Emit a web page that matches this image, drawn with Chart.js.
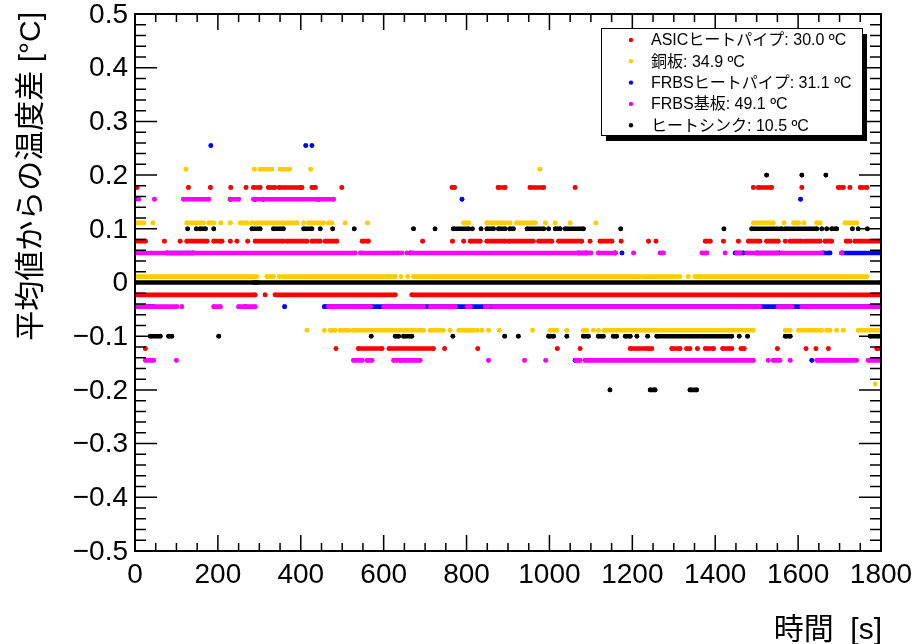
<!DOCTYPE html>
<html>
<head>
<meta charset="utf-8">
<script src="https://cdn.jsdelivr.net/npm/chart.js@4.4.0/dist/chart.umd.min.js"></script>
<style>
  html, body { margin: 0; padding: 0; background: #fff; }
  #wrap { width: 920px; height: 644px; }
</style>
</head>
<body>
<div id="wrap"><canvas id="tempChart" width="920" height="644"></canvas></div>
<script>
// deviation levels [degC] of each sensor and the time ranges [s] where points sit on them
// ([t] = single point, [t0, t1] = dense run of points)
const asicLevels = [0.177, 0.077, -0.023, -0.123];
const asicTimes = [
  [[5],[129],[182],[231],[268],[286,302],[322,337],[348,399],[403],[427,435],[499],[765,771],[876,893],[953,986],[1062],[1492],[1504,1536],[1609],[1697,1709],[1725],[1750,1766]],
  [[0,25],[71],[109],[125,174],[190,210],[230],[246],[272],[290,358],[367,415],[427,447],[459,487],[548,563],[694],[766],[793],[809,833],[849,893],[901,961],[974,1006],[1022,1078],[1098],[1122,1151],[1173],[1239],[1257],[1376,1388],[1420],[1456],[1480,1508],[1524,1552],[1569],[1581,1609],[1617,1653],[1665,1681],[1716,1725],[1737,1798]],
  [[0,290],[314],[338,628],[668,1800]],
  [[25],[485],[539,596],[613,720],[747],[827],[1019],[1074],[1195,1239],[1247],[1295,1315],[1331],[1339],[1357],[1376,1396],[1418,1440],[1462,1470],[1550],[1619],[1643],[1673],[1790,1800]]
];

const copperLevels = [0.211, 0.111, 0.011, -0.089, -0.189];
const copperTimes = [
  [[123],[288],[302,330],[350,373],[424],[977]],
  [[0,21],[43],[125,165],[178,190],[207],[230],[254,270],[282,358],[367,391],[407],[419,447],[455],[467,475],[507],[561],[793,805],[849,905],[921,966],[990],[1014],[1050],[1112],[1492,1540],[1566],[1589,1601],[1614],[1645,1653],[1713,1741]],
  [[0,294],[318,334],[348],[358,628],[642],[658],[672,1218],[1227,1263],[1271,1283],[1291,1307],[1315],[1335],[1351,1766]],
  [[415],[457],[471,483],[495,515],[525,696],[712,744],[760],[781,797],[805,817],[826],[837],[853],[879],[959],[1002,1018],[1042],[1082,1090],[1106],[1118],[1132,1492],[1569,1581],[1601,1657],[1669,1677],[1693],[1709],[1745,1800]],
  [[1786]]
];

const pipeLevels = [0.255, 0.155, 0.055, -0.045, -0.145];
const pipeTimes = [
  [[183],[412],[427]],
  [[0],[230],[290],[310],[442],[789],[1606]],
  [[77,141],[664],[1070,1090],[1159],[1175],[1448,1468],[1500,1555],[1661,1677],[1705,1800]],
  [[32,44],[266],[361],[457,1800]],
  [[640],[1062],[1633]]
];

const boardLevels = [0.155, 0.055, -0.045, -0.145];
const boardTimes = [
  [[9],[47],[117,178],[230,250],[286,479]],
  [[0,531],[544,636],[644],[656],[668,1100],[1118,1159],[1203],[1267,1275],[1368,1380],[1424],[1452,1460],[1476,1549],[1561,1657],[1705]],
  [[0,101],[113],[190,206],[250,290],[467,523],[527,551],[560,568],[600,676],[684,696],[712,773],[801,809],[845,853],[865,1472],[1480,1508],[1552,1585],[1609,1800]],
  [[25,45],[100],[527,548],[560,572],[624,632],[640,688],[853],[940],[991],[1064,1074],[1086,1492],[1528],[1540,1556],[1581],[1645,1741],[1769,1800]]
];

const sinkLevels = [0.2, 0.1, 0, -0.1, -0.2];
const sinkTimes = [
  [[1524],[1609],[1667]],
  [[127],[148],[157,170],[190],[282,302],[334,358],[407,427],[447],[477],[529],[672],[724],[768,805],[814],[835],[849,865],[877,893],[904,913],[946,986],[998],[1014,1026],[1038,1082],[1172],[1421],[1488,1561],[1569,1645],[1657],[1669],[1681,1693],[1731],[1745],[1767]],
  [[0,288],[294,1800]],
  [[37,61],[81,89],[202],[570],[628,636],[648,668],[767],[892],[925],[998,1010],[1042],[1082,1094],[1118,1130],[1154,1162],[1183,1195],[1211],[1237],[1259,1440],[1458],[1478],[1569,1581],[1774,1794]],
  [[1146],[1243,1255],[1339,1355]]
];

const seriesNames = ["ASICヒートパイプ", "銅板", "FRBSヒートパイプ", "FRBS基板", "ヒートシンク"];
const seriesMeans = [30.0, 34.9, 31.1, 49.1, 10.5];
const seriesColors = ["#ff0000", "#ffcc00", "#0000ff", "#ff00ff", "#000000"];

const xTicks = [0, 200, 400, 600, 800, 1000, 1200, 1400, 1600, 1800];
const yTicks = [-0.5, -0.4, -0.3, -0.2, -0.1, 0, 0.1, 0.2, 0.3, 0.4, 0.5];

const FONT = '"Liberation Sans", Arial, "Noto Sans CJK JP", sans-serif';

// runs -> points, broken by gaps so the line only joins points of one run
function toPoints(levels, times) {
  const pts = [];
  levels.forEach((lv, i) => {
    times[i].forEach((run) => {
      run.forEach((t) => pts.push({ x: t, y: lv }));
      pts.push({ x: run[run.length - 1], y: null });
    });
  });
  return pts;
}

const allLevels = [asicLevels, copperLevels, pipeLevels, boardLevels, sinkLevels];
const allTimes = [asicTimes, copperTimes, pipeTimes, boardTimes, sinkTimes];
const drawOrder = [4, 3, 2, 1, 0];

const datasets = seriesNames.map((name, i) => ({
  label: name,
  data: toPoints(allLevels[i], allTimes[i]),
  showLine: true,
  spanGaps: false,
  borderColor: seriesColors[i],
  backgroundColor: seriesColors[i],
  borderWidth: 4.6,
  borderCapStyle: "round",
  pointRadius: 2.4,
  pointBorderWidth: 0,
  order: drawOrder[i],
}));

const fmtY = (v) => (v === 0 ? "0" : (v < 0 ? "\u2212" : "") + Math.abs(v).toFixed(1));

const rootFrame = {
  id: "rootFrame",
  afterDraw(chart) {
    const { ctx, chartArea: a, scales } = chart;
    const xs = scales.x, ys = scales.y;
    ctx.save();
    ctx.strokeStyle = "#000";
    ctx.fillStyle = "#000";

    // ticks on all four sides
    ctx.lineWidth = 1.5;
    ctx.beginPath();
    for (let t = 0; t <= 1800; t += 50) {
      const px = xs.getPixelForValue(t);
      const len = t % 200 === 0 ? 16 : 8;
      ctx.moveTo(px, a.bottom); ctx.lineTo(px, a.bottom - len);
      ctx.moveTo(px, a.top); ctx.lineTo(px, a.top + len);
    }
    for (let k = -25; k <= 25; k++) {
      const py = ys.getPixelForValue(k * 0.02);
      const len = k % 5 === 0 ? 22 : 11;
      ctx.moveTo(a.left, py); ctx.lineTo(a.left + len, py);
      ctx.moveTo(a.right, py); ctx.lineTo(a.right - len, py);
    }
    ctx.stroke();

    ctx.lineWidth = 2;
    ctx.strokeRect(a.left, a.top, a.right - a.left, a.bottom - a.top);

    // tick labels
    ctx.font = "28px " + FONT;
    ctx.textAlign = "right";
    ctx.textBaseline = "middle";
    yTicks.forEach((v) => ctx.fillText(fmtY(v), a.left - 7, ys.getPixelForValue(v) + 1));
    ctx.textAlign = "center";
    ctx.textBaseline = "top";
    xTicks.forEach((v) => ctx.fillText(String(v), xs.getPixelForValue(v), a.bottom + 10));

    // axis titles
    ctx.font = "30px " + FONT;
    ctx.textAlign = "right";
    ctx.textBaseline = "alphabetic";
    ctx.fillText("時間  [s]", a.right + 1, 639);
    ctx.save();
    ctx.translate(32, 12);
    ctx.rotate(-Math.PI / 2);
    ctx.textBaseline = "middle";
    ctx.fillText("平均値からの温度差 [°C]", 0, 0);
    ctx.restore();

    // legend box with ROOT style shadow
    const lx = 601, ly = 28, lw = 261, lh = 107;
    ctx.fillRect(lx + 5, ly + 6, lw, lh);
    ctx.fillStyle = "#fff";
    ctx.fillRect(lx, ly, lw, lh);
    ctx.lineWidth = 1;
    ctx.strokeRect(lx + 0.5, ly + 0.5, lw, lh);
    ctx.font = "16px " + FONT;
    ctx.textAlign = "left";
    ctx.textBaseline = "middle";
    seriesNames.forEach((name, i) => {
      const ry = 40 + i * 21.3;
      ctx.fillStyle = seriesColors[i];
      ctx.beginPath();
      ctx.arc(631, ry, 2.2, 0, Math.PI * 2);
      ctx.fill();
      ctx.fillStyle = "#000";
      ctx.fillText(name + ": " + seriesMeans[i].toFixed(1) + " ºC", 651, ry + 1);
    });
    ctx.restore();
  },
};

new Chart(document.getElementById("tempChart").getContext("2d"), {
  type: "scatter",
  data: { datasets },
  options: {
    responsive: false,
    animation: false,
    layout: { padding: { left: 135, right: 39, top: 14, bottom: 93 } },
    scales: {
      x: { type: "linear", min: 0, max: 1800, display: false },
      y: { type: "linear", min: -0.5, max: 0.5, display: false },
    },
    plugins: { legend: { display: false }, tooltip: { enabled: false } },
  },
  plugins: [rootFrame],
});
</script>
</body>
</html>
